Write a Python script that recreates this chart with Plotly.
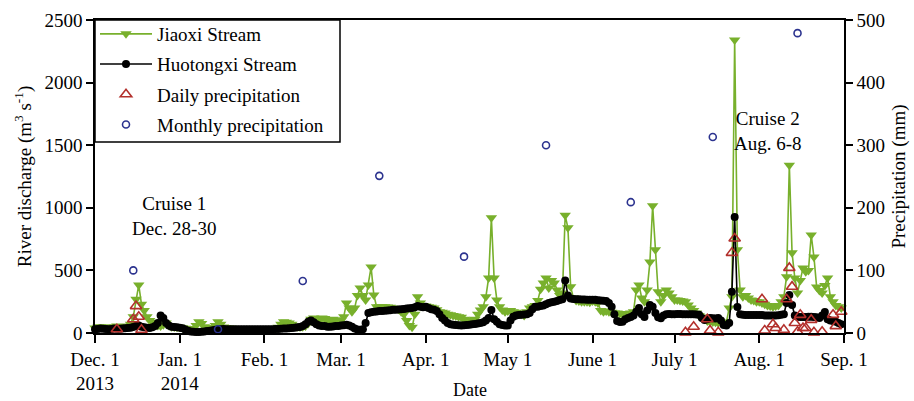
import pandas as pd
import plotly.graph_objects as go

# ---- data ----
jiaoxi_dec = [40, 45, 50, 48, 45, 42, 45, 50, 55, 52, 50, 48, 55, 70, 130, 270, 384, 230, 180, 130,
              100, 85, 70, 60, 55, 65, 80, 60, 50, 48, 45]
jiaoxi_jan = [45, 42, 38, 35, 32, 35, 60, 90, 75, 50, 42, 40, 42, 60, 90, 70, 48, 42, 40, 38,
              36, 35, 35, 34, 34, 33, 33, 32, 32, 32, 32]
jiaoxi_feb = [32, 32, 33, 34, 35, 45, 70, 90, 85, 80, 70, 55, 50, 48, 50, 55, 75, 110, 120, 115,
              110, 120, 115, 105, 100, 110, 105, 100]
jiaoxi_mar = [100, 130, 240, 200, 170, 200, 300, 360, 300, 264, 384, 527, 304, 210, 210, 212, 210, 208, 205, 200,
              195, 190, 170, 150, 100, 60, 45, 150, 290, 240, 220]
jiaoxi_apr = [215, 210, 205, 200, 185, 170, 165, 160, 150, 145, 140, 135, 130, 125, 110, 105, 100, 104, 110, 150,
              184, 210, 290, 440, 920, 440, 264, 210, 184, 170]
jiaoxi_may = [175, 180, 170, 165, 160, 150, 140, 170, 200, 210, 220, 260, 350, 400, 440, 360, 420, 400, 344, 300,
              320, 940, 840, 370, 280, 260, 255, 250, 250, 250, 245]
jiaoxi_jun = [255, 250, 240, 180, 170, 175, 170, 165, 160, 160, 155, 150, 150, 155, 160, 170, 344, 384, 280, 250,
              344, 568, 1016, 664, 330, 250, 300, 344, 320, 290]
jiaoxi_jul = [264, 264, 260, 255, 250, 224, 200, 180, 160, 140, 128, 110, 95, 90, 88, 85, 82, 80, 85, 88,
              200, 290, 2340, 664, 344, 290, 300, 280, 264, 260, 250]
jiaoxi_aug = [250, 240, 230, 220, 215, 210, 215, 220, 250, 290, 450, 1340, 640, 440, 320, 420, 520, 490, 500, 783,
              608, 368, 340, 320, 380, 440, 290, 250, 220, 210, 200]

huoto_dec = [30, 32, 35, 33, 32, 30, 32, 35, 34, 33, 35, 38, 40, 42, 48, 55, 60, 50, 45, 42,
             40, 45, 55, 80, 140, 120, 80, 60, 50, 48, 45]
huoto_jan = [42, 38, 28, 18, 12, 10, 8, 8, 10, 12, 15, 18, 22, 25, 28, 30, 32, 30, 30, 30,
             30, 30, 30, 30, 30, 30, 30, 30, 30, 30, 30]
huoto_feb = [30, 30, 30, 30, 32, 32, 34, 35, 36, 38, 40, 42, 45, 48, 55, 70, 90, 100, 85, 70,
             60, 55, 55, 50, 50, 52, 55, 55]
huoto_mar = [60, 62, 65, 60, 50, 35, 28, 25, 30, 80, 160, 165, 170, 172, 175, 175, 178, 180, 182, 185,
             185, 188, 190, 192, 195, 198, 200, 205, 216, 210, 205]
huoto_apr = [210, 200, 190, 185, 175, 150, 120, 100, 80, 70, 65, 64, 62, 60, 62, 64, 66, 70, 72, 75,
             80, 85, 100, 120, 184, 110, 90, 70, 64, 60]
huoto_may = [60, 100, 130, 140, 144, 145, 148, 150, 160, 190, 210, 210, 215, 220, 230, 240, 245, 250, 255, 264,
             270, 420, 300, 275, 272, 270, 270, 268, 268, 265, 265]
huoto_jun = [265, 265, 262, 260, 258, 255, 240, 210, 150, 95, 88, 90, 110, 120, 128, 140, 170, 200, 150, 128,
             180, 224, 210, 160, 125, 118, 140, 150, 152, 150]
huoto_jul = [150, 152, 152, 150, 150, 150, 150, 150, 148, 145, 120, 104, 110, 120, 118, 115, 120, 100, 64, 60,
             80, 330, 927, 208, 150, 145, 144, 144, 144, 144, 144]
huoto_aug = [144, 144, 140, 140, 140, 140, 140, 142, 145, 150, 240, 304, 224, 140, 130, 128, 128, 128, 130, 130,
             128, 125, 120, 140, 168, 110, 100, 95, 90, 80, 70]

daily_p_dates = ['2013-12-09', '2013-12-15', '2013-12-16', '2013-12-17', '2013-12-18',
                 '2014-07-05', '2014-07-08', '2014-07-13', '2014-07-14', '2014-07-17', '2014-07-22', '2014-07-23',
                 '2014-08-02', '2014-08-03', '2014-08-06', '2014-08-07', '2014-08-10', '2014-08-11', '2014-08-12',
                 '2014-08-13', '2014-08-14', '2014-08-15', '2014-08-16', '2014-08-17', '2014-08-18', '2014-08-20',
                 '2014-08-21', '2014-08-24', '2014-08-28', '2014-08-29', '2014-08-31']
daily_p_vals = [6, 22, 43, 26, 5,
                1, 10, 22, 4, 1, 128, 151,
                54, 4, 14, 8, 5, 54, 104, 74, 16, 2, 29, 8, 8, 21, 1, 2, 29, 11, 34]

monthly_p_dates = ['2013-12-15', '2014-01-15', '2014-02-15', '2014-03-15', '2014-04-15',
                   '2014-05-15', '2014-06-15', '2014-07-15', '2014-08-15']
monthly_p_vals = [100, 6, 83, 251, 122, 300, 209, 313, 479]

tick_dates = ['2013-12-01', '2014-01-01', '2014-02-01', '2014-03-01', '2014-04-01',
              '2014-05-01', '2014-06-01', '2014-07-01', '2014-08-01', '2014-09-01']
tick_labels = ['Dec. 1<br>2013', 'Jan. 1<br>2014', 'Feb. 1', 'Mar. 1', 'Apr. 1',
               'May 1', 'June 1', 'July 1', 'Aug. 1', 'Sep. 1']

# ---- assemble ----
dates = pd.date_range('2013-12-01', '2014-08-31', freq='D')
jiaoxi = (jiaoxi_dec + jiaoxi_jan + jiaoxi_feb + jiaoxi_mar + jiaoxi_apr +
          jiaoxi_may + jiaoxi_jun + jiaoxi_jul + jiaoxi_aug)
huoto = (huoto_dec + huoto_jan + huoto_feb + huoto_mar + huoto_apr +
         huoto_may + huoto_jun + huoto_jul + huoto_aug)

FONT = 'Liberation Serif'
GREEN = '#78b02c'
RED = '#b3302c'
BLUE = '#2c338f'

fig = go.Figure()
fig.add_trace(go.Scatter(
    x=dates, y=jiaoxi, name='Jiaoxi Stream', mode='lines+markers',
    line=dict(color=GREEN, width=1.6),
    marker=dict(symbol='triangle-down', size=10, color=GREEN),
    cliponaxis=False, legendgroup='a'))
fig.add_trace(go.Scatter(
    x=dates, y=huoto, name='Huotongxi Stream', mode='lines+markers',
    line=dict(color='black', width=1.6),
    marker=dict(symbol='circle', size=8, color='black'),
    cliponaxis=False, legendgroup='b'))
fig.add_trace(go.Scatter(
    x=pd.to_datetime(daily_p_dates), y=daily_p_vals, name='Daily precipitation', mode='markers',
    marker=dict(symbol='triangle-up-open', size=10, color=RED, line=dict(width=1.6, color=RED)),
    yaxis='y2', cliponaxis=False, legendgroup='c'))
fig.add_trace(go.Scatter(
    x=pd.to_datetime(monthly_p_dates), y=monthly_p_vals, name='Monthly precipitation', mode='markers',
    marker=dict(symbol='circle-open', size=7, color=BLUE, line=dict(width=1.6, color=BLUE)),
    yaxis='y2', cliponaxis=False, legendgroup='d'))

fig.add_annotation(x='2013-12-29T18:00', y=935, xref='x', yref='y',
                   text='Cruise 1<br>Dec. 28-30', showarrow=False,
                   font=dict(family=FONT, size=19, color='black'))
fig.add_annotation(x='2014-08-04T06:00', y=1614, xref='x', yref='y',
                   text='Cruise 2<br>Aug. 6-8', showarrow=False,
                   font=dict(family=FONT, size=19, color='black'))
fig.add_annotation(x=0.5, y=-(390 - 333) / 313, xref='paper', yref='paper',
                   text='Date', showarrow=False, yanchor='middle',
                   font=dict(family=FONT, size=18, color='black'))

# legend frame
fig.add_shape(type='rect', xref='paper', yref='paper',
              x0=0, x1=(340 - 95) / 749, y0=(333 - 142) / 313, y1=1,
              line=dict(color='black', width=1.5), fillcolor='white', layer='above')

fig.update_layout(
    width=914, height=401,
    margin=dict(l=95, r=70, t=20, b=68),
    paper_bgcolor='white', plot_bgcolor='white',
    font=dict(family=FONT, size=19, color='black'),
    showlegend=True,
    legend=dict(x=0, y=1 + 5 / 313, xanchor='left', yanchor='top',
                borderwidth=0, bgcolor='rgba(0,0,0,0)',
                font=dict(family=FONT, size=19, color='black'),
                tracegroupgap=2.5, itemwidth=52),
    xaxis=dict(type='date', range=['2013-12-01', '2014-09-01'],
               tickvals=tick_dates, ticktext=tick_labels,
               ticks='outside', ticklen=8, tickwidth=1.5, tickcolor='black',
               showline=True, linecolor='black', linewidth=1.5, mirror=True,
               showgrid=False, zeroline=False, automargin=False),
    yaxis=dict(range=[0, 2500], dtick=500, tick0=0,
               ticks='outside', ticklen=7, tickwidth=1.5, tickcolor='black',
               showline=True, linecolor='black', linewidth=1.5,
               showgrid=False, zeroline=False, automargin=False,
               title=dict(text='River discharge (m<sup>3</sup> s<sup>-1</sup>)', standoff=8,
                          font=dict(family=FONT, size=19))),
    yaxis2=dict(range=[0, 500], dtick=100, tick0=0, overlaying='y', side='right',
                ticks='outside', ticklen=7, tickwidth=1.5, tickcolor='black',
                showline=True, linecolor='black', linewidth=1.5,
                showgrid=False, zeroline=False, automargin=False,
                title=dict(text='Precipitation (mm)', standoff=8,
                           font=dict(family=FONT, size=19))),
)

fig.write_html('out.html')
